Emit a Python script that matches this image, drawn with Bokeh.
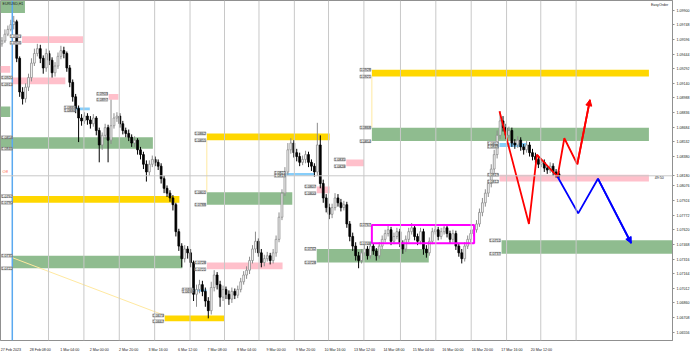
from bokeh.plotting import figure
from bokeh.models import (ColumnDataSource, FixedTicker, Span, Label, LabelSet,
                          Arrow, NormalHead, NumeralTickFormatter)
from bokeh.embed import file_html
from bokeh.resources import INLINE
from bokeh.core.properties import value

FONT = "Liberation Sans"

# ---------------- data ----------------
first_open = 1.0955
closes = [
 1.0958,1.0965,1.0970,1.0975,1.0978,1.0940,1.0905,1.0898,1.0910,1.0920,
 1.0935,1.0945,1.0950,1.0940,1.0930,1.0945,1.0938,1.0925,1.0932,1.0942,
 1.0948,1.0945,1.0930,1.0915,1.0900,1.0888,1.0878,1.0875,1.0880,1.0876,
 1.0872,1.0878,1.0865,1.0850,1.0860,1.0868,1.0855,1.0870,1.0878,1.0880,
 1.0872,1.0865,1.0862,1.0858,1.0852,1.0855,1.0845,1.0840,1.0830,1.0822,
 1.0830,1.0835,1.0832,1.0828,1.0815,1.0805,1.0800,1.0795,1.0788,1.0760,
 1.0745,1.0732,1.0742,1.0738,1.0728,1.0695,1.0700,1.0705,1.0698,1.0688,
 1.0678,1.0702,1.0715,1.0705,1.0692,1.0700,1.0695,1.0690,1.0698,1.0694,
 1.0700,1.0708,1.0715,1.0720,1.0730,1.0742,1.0750,1.0738,1.0728,1.0732,
 1.0735,1.0730,1.0738,1.0752,1.0775,1.0800,1.0822,1.0845,1.0852,1.0842,
 1.0838,1.0832,1.0835,1.0840,1.0832,1.0828,1.0822,1.0850,1.0810,1.0795,
 1.0785,1.0778,1.0785,1.0795,1.0790,1.0785,1.0788,1.0768,1.0755,1.0745,
 1.0735,1.0730,1.0738,1.0742,1.0735,1.0745,1.0740,1.0735,1.0745,1.0752,
 1.0758,1.0762,1.0750,1.0755,1.0760,1.0748,1.0742,1.0752,1.0760,1.0764,
 1.0755,1.0750,1.0760,1.0742,1.0738,1.0750,1.0760,1.0762,1.0755,1.0760,
 1.0764,1.0758,1.0752,1.0758,1.0745,1.0738,1.0732,1.0745,1.0752,1.0758,
 1.0762,1.0768,1.0780,1.0790,1.0800,1.0810,1.0825,1.0840,1.0860,1.0875,
 1.0868,1.0860,1.0865,1.0852,1.0850,1.0855,1.0848,1.0845,1.0850,1.0842,
 1.0838,1.0835,1.0830,1.0832,1.0826,1.0824,1.0828,1.0822,1.0820,1.0818]
highs = [
 1.0962,1.0970,1.0974,1.0980,1.0984,1.0980,1.0942,1.0910,1.0914,1.0924,
 1.0940,1.0950,1.0955,1.0954,1.0943,1.0950,1.0948,1.0941,1.0936,1.0946,
 1.0953,1.0952,1.0947,1.0933,1.0918,1.0903,1.0891,1.0882,1.0884,1.0883,
 1.0880,1.0882,1.0880,1.0868,1.0863,1.0872,1.0871,1.0897,1.0883,1.0884,
 1.0883,1.0875,1.0868,1.0866,1.0861,1.0859,1.0857,1.0848,1.0843,1.0834,
 1.0834,1.0839,1.0838,1.0835,1.0831,1.0818,1.0808,1.0803,1.0798,1.0790,
 1.0763,1.0748,1.0746,1.0745,1.0742,1.0730,1.0705,1.0710,1.0709,1.0702,
 1.0692,1.0708,1.0720,1.0718,1.0709,1.0704,1.0703,1.0699,1.0702,1.0701,
 1.0704,1.0712,1.0719,1.0724,1.0734,1.0746,1.0760,1.0753,1.0742,1.0736,
 1.0739,1.0738,1.0742,1.0756,1.0780,1.0804,1.0827,1.0852,1.0857,1.0855,
 1.0846,1.0842,1.0839,1.0844,1.0843,1.0835,1.0831,1.0873,1.0860,1.0814,
 1.0799,1.0789,1.0789,1.0800,1.0799,1.0794,1.0792,1.0791,1.0771,1.0759,
 1.0749,1.0739,1.0742,1.0746,1.0745,1.0749,1.0748,1.0743,1.0749,1.0756,
 1.0762,1.0767,1.0765,1.0759,1.0764,1.0763,1.0751,1.0756,1.0764,1.0769,
 1.0767,1.0758,1.0764,1.0763,1.0746,1.0754,1.0764,1.0767,1.0765,1.0764,
 1.0768,1.0767,1.0761,1.0762,1.0761,1.0748,1.0742,1.0749,1.0756,1.0762,
 1.0766,1.0772,1.0784,1.0795,1.0804,1.0814,1.0830,1.0845,1.0865,1.0885,
 1.0880,1.0872,1.0869,1.0868,1.0856,1.0859,1.0858,1.0851,1.0854,1.0853,
 1.0846,1.0842,1.0839,1.0836,1.0835,1.0829,1.0832,1.0831,1.0825,1.0823]
lows = [
 1.0952,1.0956,1.0963,1.0968,1.0970,1.0936,1.0900,1.0892,1.0894,1.0906,
 1.0916,1.0932,1.0942,1.0935,1.0924,1.0926,1.0933,1.0920,1.0921,1.0929,
 1.0939,1.0940,1.0926,1.0910,1.0895,1.0883,1.0853,1.0870,1.0872,1.0871,
 1.0867,1.0869,1.0860,1.0832,1.0845,1.0856,1.0832,1.0851,1.0867,1.0874,
 1.0868,1.0861,1.0858,1.0854,1.0848,1.0848,1.0840,1.0835,1.0825,1.0812,
 1.0818,1.0827,1.0828,1.0824,1.0810,1.0800,1.0796,1.0791,1.0782,1.0755,
 1.0740,1.0723,1.0728,1.0732,1.0723,1.0688,1.0682,1.0696,1.0693,1.0682,
 1.0670,1.0674,1.0698,1.0700,1.0682,1.0688,1.0690,1.0684,1.0686,1.0690,
 1.0691,1.0697,1.0705,1.0711,1.0716,1.0727,1.0738,1.0734,1.0723,1.0724,
 1.0729,1.0726,1.0727,1.0734,1.0749,1.0772,1.0797,1.0819,1.0841,1.0837,
 1.0833,1.0828,1.0829,1.0831,1.0827,1.0823,1.0817,1.0818,1.0805,1.0790,
 1.0780,1.0773,1.0774,1.0782,1.0786,1.0781,1.0782,1.0764,1.0750,1.0740,
 1.0730,1.0722,1.0727,1.0735,1.0731,1.0732,1.0736,1.0730,1.0732,1.0742,
 1.0749,1.0755,1.0746,1.0747,1.0752,1.0744,1.0737,1.0739,1.0749,1.0757,
 1.0751,1.0746,1.0747,1.0736,1.0733,1.0735,1.0747,1.0757,1.0751,1.0752,
 1.0757,1.0754,1.0748,1.0749,1.0741,1.0734,1.0727,1.0729,1.0742,1.0749,
 1.0755,1.0759,1.0765,1.0776,1.0786,1.0796,1.0806,1.0821,1.0836,1.0856,
 1.0864,1.0856,1.0857,1.0848,1.0846,1.0847,1.0844,1.0840,1.0842,1.0838,
 1.0834,1.0831,1.0826,1.0827,1.0822,1.0820,1.0821,1.0818,1.0816,1.0815]

x_labels = ["27 Feb 2023", "28 Feb 08:00", "1 Mar 04:00", "2 Mar 00:00", "2 Mar 20:00",
            "3 Mar 16:00", "6 Mar 12:00", "7 Mar 08:00", "8 Mar 04:00", "9 Mar 00:00",
            "9 Mar 20:00", "10 Mar 16:00", "13 Mar 12:00", "14 Mar 08:00", "15 Mar 04:00",
            "16 Mar 00:00", "16 Mar 20:00", "17 Mar 16:00", "20 Mar 12:00"]
# price scale ticks (the one hidden behind the current-price tag is left out)
y_ticks = [1.09900, 1.09748, 1.09596, 1.09444, 1.09292, 1.09140, 1.08988, 1.08836,
           1.08684, 1.08532, 1.08380, 1.08076, 1.07924, 1.07772, 1.07620,
           1.07468, 1.07316, 1.07164, 1.07012, 1.06860, 1.06708, 1.06556]
day_separators = [15.8, 27.8, 39.8, 51.8, 63.8, 75.5, 87.2, 99.2, 110.8, 122.8,
                  135.2, 147.2, 159.2, 171.2, 182.8, 194.8]

GREEN, PINK, GOLD, SKY = "#8fbc8f", "#ffc0cb", "#ffd700", "#87cefa"
zone_left   = [6.8, -0.5, 3.5, -0.5, 25.2, 36.2, -0.5, 3.5, 3.5, 55.2, 69.5, 65.2,
               69.5, 69.5, 96.5, 106.8, 116.8, 125.5, 125.5, 168.8, 168.8, 106.8, 169.5, -0.5]
zone_right  = [27.5, 2.8, 21.5, 2.8, 29.8, 39.5, 51.2, 60.2, 61.2, 75.5, 95.2, 69.5,
               111.2, 98.5, 106.2, 111.2, 122.8, 219.5, 219.5, 177.8, 219.5, 144.8, 227.5, 7.8]
zone_top    = [1.0963, 1.0932, 1.0920, 1.0890, 1.0889, 1.0903, 1.0858, 1.0797, 1.0735,
               1.0673, 1.0728, 1.0700, 1.0862, 1.0801, 1.0821, 1.0807, 1.0835, 1.0928,
               1.0868, 1.0852, 1.0819, 1.0742, 1.0751, 1.1000]
zone_bottom = [1.0956, 1.0925, 1.0913, 1.0879, 1.0886, 1.0897, 1.0846, 1.0790, 1.0722,
               1.0667, 1.0721, 1.0698, 1.0855, 1.0788, 1.0818, 1.0800, 1.0828, 1.0921,
               1.0854, 1.0848, 1.0812, 1.0728, 1.0737, 1.0987]
zone_color  = [PINK, PINK, PINK, GREEN, SKY, PINK, GREEN, GOLD, GREEN, GOLD, PINK, SKY,
               GOLD, GREEN, SKY, PINK, PINK, GOLD, GREEN, SKY, PINK, GREEN, GREEN, GREEN]
# where each zone's price tags sit: "R" = just left of the zone, "E" = at the chart's left edge
zone_tag = ["R", None, "E", None, "R", "R", "E", "E", "E", "R", "R", "R",
            "R", "R", "R", "R", "R", "R", "R", "R", "R", "R", "R", None]

box_left, box_right, box_top, box_bottom = 125.5, 160.2, 1.0767, 1.0748

red_x = [168.8, 178.8, 181.5, 188.5, 190.8, 195.2, 199.5]
red_y = [1.0885, 1.0768, 1.0840, 1.0817, 1.0857, 1.0830, 1.0897]
blue_x = [188.5, 195.5, 202.2, 213.5]
blue_y = [1.0817, 1.0779, 1.0815, 1.0748]

diag_x = [3.5, 55.2]
diag_y = [1.0733, 1.0673]
vline_x = [69.5, 125.5]
vline_y0 = [1.0855, 1.0921]
vline_y1 = [1.0801, 1.0868]

# ---------------- figure ----------------
p = figure(width=692, height=354, x_range=(-0.5, 227.5), y_range=(1.0647, 1.1000),
           output_backend="svg", toolbar_location=None, y_axis_location="right",
           min_border_left=0, min_border_top=0, min_border_right=0, min_border_bottom=0)
p.background_fill_color = "white"
p.border_fill_color = "white"
p.outline_line_color = "#909090"
p.xgrid.visible = False
p.ygrid.visible = False

for xs in day_separators:
    p.add_layout(Span(location=xs, dimension="height", line_color="#c8c8c8", line_width=1))
p.add_layout(Span(location=3.5, dimension="height", line_color="#5aa9f0", line_width=1.5))
p.add_layout(Span(location=closes[-1], dimension="width", line_color="#c8c8c8", line_width=1))

zsrc = ColumnDataSource(dict(left=zone_left, right=zone_right, top=zone_top,
                             bottom=zone_bottom, color=zone_color))
p.quad(left="left", right="right", top="top", bottom="bottom", fill_color="color",
       line_color=None, source=zsrc)

p.line(diag_x, diag_y, line_color="#ffe9a0", line_width=1)
p.segment(x0=vline_x, y0=vline_y0, x1=vline_x, y1=vline_y1, line_color="#ffe9a0", line_width=1)

# candles
opens = [first_open] + closes[:-1]
idx = list(range(len(closes)))
up = [i for i in idx if closes[i] >= opens[i]]
dn = [i for i in idx if closes[i] < opens[i]]

def src(ids):
    return ColumnDataSource(dict(
        x=ids, h=[highs[i] for i in ids], l=[lows[i] for i in ids],
        t=[max(opens[i], closes[i]) for i in ids], b=[min(opens[i], closes[i]) for i in ids]))

su, sd = src(up), src(dn)
p.segment(x0="x", y0="l", x1="x", y1="h", source=su, line_color="#8c8c8c", line_width=1)
p.vbar(x="x", width=0.62, top="t", bottom="b", source=su, fill_color="white",
       line_color="#8c8c8c", line_width=0.8)
p.segment(x0="x", y0="l", x1="x", y1="h", source=sd, line_color="black", line_width=1)
p.vbar(x="x", width=0.62, top="t", bottom="b", source=sd, fill_color="black",
       line_color="black", line_width=0.8)

p.quad(left=[box_left], right=[box_right], top=[box_top], bottom=[box_bottom],
       fill_color=None, line_color="#ff00ff", line_width=2)

p.line(red_x, red_y, line_color="red", line_width=1.8)
p.line(blue_x, blue_y, line_color="blue", line_width=1.8)
p.add_layout(Arrow(end=NormalHead(size=6, fill_color="red", line_color="red"),
                   x_start=red_x[-2], y_start=red_y[-2], x_end=red_x[-1], y_end=red_y[-1],
                   line_color="red", line_width=1.8))
p.add_layout(Arrow(end=NormalHead(size=6, fill_color="blue", line_color="blue"),
                   x_start=blue_x[-2], y_start=blue_y[-2], x_end=blue_x[-1], y_end=blue_y[-1],
                   line_color="blue", line_width=1.8))

# zone price tags
rx, ry, rt, ex, ey, et = [], [], [], [], [], []
for tag, a, t_, b_ in zip(zone_tag, zone_left, zone_top, zone_bottom):
    if tag == "R":
        rx += [a, a]; ry += [t_, b_]; rt += ["%.4f" % t_, "%.4f" % b_]
    elif tag == "E":
        ex += [-0.5, -0.5]; ey += [t_, b_]; et += ["%.4f" % t_, "%.4f" % b_]
rx += [box_left, box_left]
ry += [box_top, box_bottom]
rt += ["%.4f" % box_top, "%.4f" % box_bottom]
tag_style = dict(text_baseline="middle", text_font=value(FONT), text_font_size="3.6px",
                 text_color="#202020", background_fill_color="#f2f2f2",
                 border_line_color="#7a7a7a", border_line_width=0.5)
p.add_layout(LabelSet(x="x", y="y", text="text", source=ColumnDataSource(dict(x=rx, y=ry, text=rt)),
                      text_align="right", x_offset=-1, **tag_style))
p.add_layout(LabelSet(x="x", y="y", text="text", source=ColumnDataSource(dict(x=ex, y=ey, text=et)),
                      text_align="left", x_offset=1, **tag_style))

# misc texts
p.add_layout(Label(x=0.2, y=1.0998, text="EURUSD,H1", text_font=FONT, text_font_size="3.6px",
                   text_baseline="top", text_color="#202020"))
p.add_layout(Label(x=0.2, y=closes[-1] + 0.0004, text="Off", text_font=FONT,
                   text_font_size="4px", text_baseline="middle", text_color="#ff5a36"))
p.add_layout(Label(x=226.0, y=1.0997, text="EasyOrder", text_font=FONT, text_font_size="3.6px",
                   text_align="right", text_baseline="top", text_color="#202020"))
p.add_layout(Label(x=221.5, y=closes[-1], text="49:50", text_font=FONT, text_font_size="3.6px",
                   text_baseline="top", text_color="#202020"))

# axes
xticks = [10 * i + 3 for i in range(len(x_labels))]
p.xaxis.ticker = FixedTicker(ticks=xticks)
p.xaxis.major_label_overrides = {t: s for t, s in zip(xticks, x_labels)}
p.xaxis.major_tick_line_color = None
p.xaxis.minor_tick_line_color = None
p.xaxis.axis_line_color = "#909090"
p.xaxis.major_label_standoff = 1
p.xaxis.major_label_text_font = FONT
p.xaxis.major_label_text_font_size = "3.6px"
p.xaxis.major_label_text_color = "#202020"

# the current price is shown on the price scale as well
p.yaxis.ticker = FixedTicker(ticks=sorted(y_ticks + [closes[-1]]))
p.yaxis.formatter = NumeralTickFormatter(format="0.00000")
p.yaxis.major_tick_out = 2
p.yaxis.major_tick_in = 0
p.yaxis.major_tick_line_color = "#909090"
p.yaxis.minor_tick_line_color = None
p.yaxis.axis_line_color = "#909090"
p.yaxis.major_label_standoff = 2
p.yaxis.major_label_text_font = FONT
p.yaxis.major_label_text_font_size = "3.6px"
p.yaxis.major_label_text_color = "#202020"

open("out.html", "w").write(file_html(p, INLINE))
